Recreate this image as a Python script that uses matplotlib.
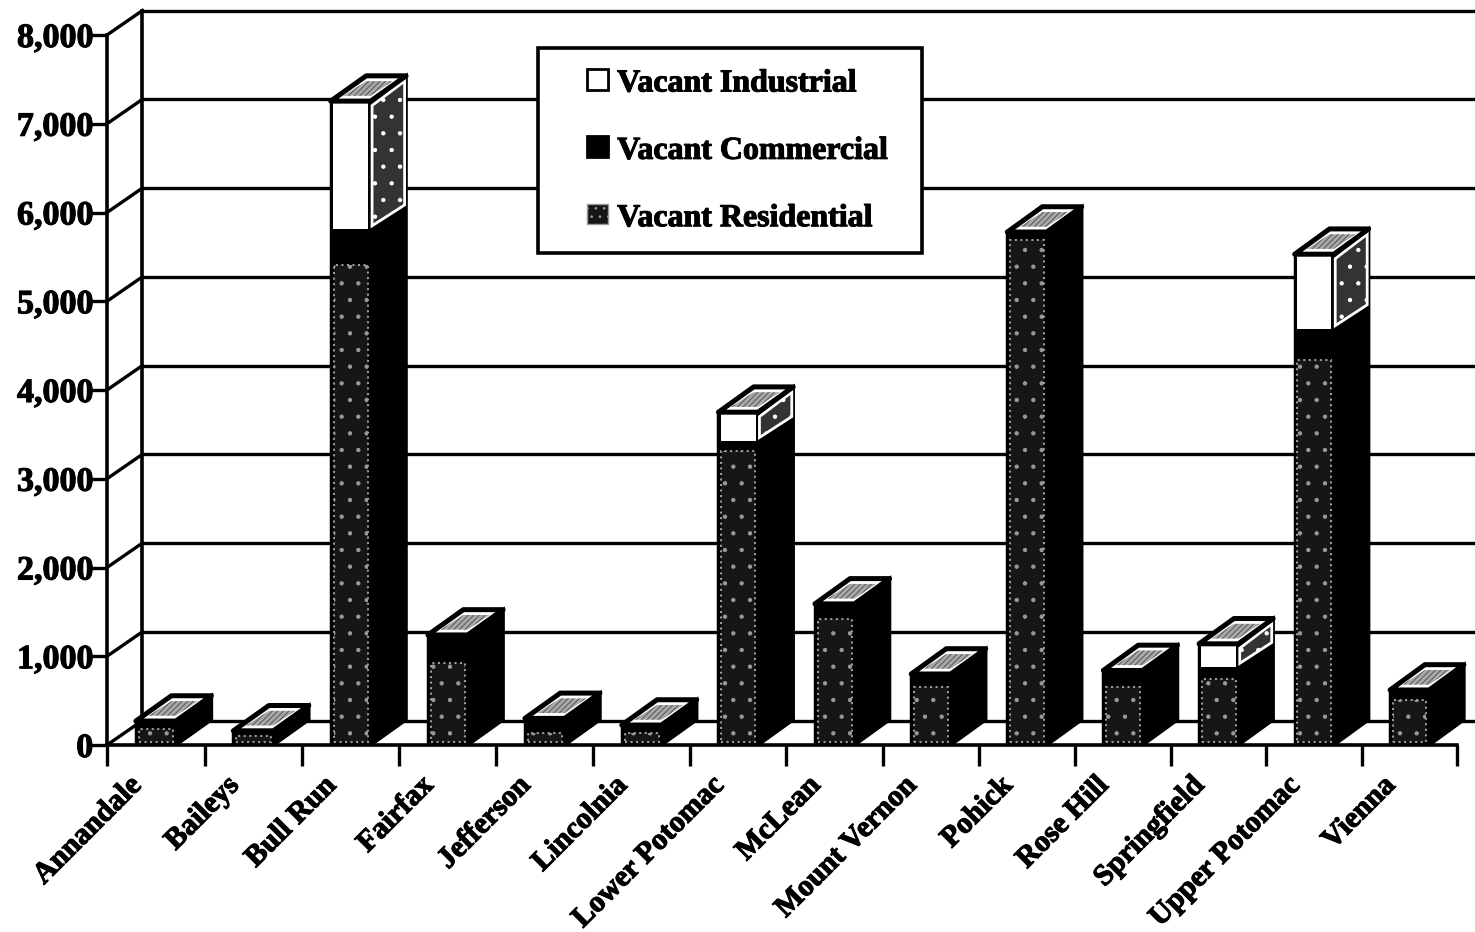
# vacant land by planning district, fake 3d stacked bars
import matplotlib
matplotlib.use("Agg")
import matplotlib.pyplot as plt
import matplotlib.patheffects as pe
from matplotlib.patches import Patch, Rectangle
from matplotlib.legend_handler import HandlerPatch
from matplotlib.transforms import ScaledTranslation

plt.rcParams['font.family'] = ['Liberation Serif', 'DejaVu Serif']
plt.rcParams['font.weight'] = 'bold'
plt.rcParams['hatch.linewidth'] = 0.7

districts = ["Annandale", "Baileys", "Bull Run", "Fairfax", "Jefferson", "Lincolnia",
             "Lower Potomac", "McLean", "Mount Vernon", "Pohick", "Rose Hill",
             "Springfield", "Upper Potomac", "Vienna"]
residential = [180, 100, 5410, 920, 130, 140, 3310, 1420, 650, 5690, 650, 745, 4340, 510]
commercial = [90, 60, 400, 320, 170, 85, 115, 170, 150, 90, 190, 135, 345, 110]
industrial = [0, 0, 1445, 0, 0, 0, 325, 0, 0, 0, 0, 260, 845, 0]
y_ticks = [0, 1000, 2000, 3000, 4000, 5000, 6000, 7000, 8000]

W, H = 1475, 932
heavy = [pe.withStroke(linewidth=0.8, foreground='black')]


# the scan is stretched a little in the middle of the page
def bow(x):
    return x + 0.045 * 4 * x * (14 - x) / 196


def unbow(x):
    return x - 0.045 * 4 * x * (14 - x) / 196


def square_handle(legend, orig_handle, xdescent, ydescent, width, height, fontsize):
    # small square at the right end of the handle slot
    return Rectangle((width - 15, (height - 15) / 2), 15, 15)


fig = plt.figure(figsize=(W / 100, H / 100), dpi=100)
ax = fig.add_axes([107 / W, (H - 745) / H, (W - 107) / W, 710 / H])
ax.set_xscale('function', functions=(bow, unbow))
ax.set_xlim(0, (W - 107) / 96.43)
ax.set_ylim(0, 8000)

# depth of the wall and of the bars, in data units
wall_dx, wall_dy = 0.363, 276
bar_dx, bar_dy = 0.365, 285
bar_w = 0.41

# back wall
for v in y_ticks:
    ax.plot([wall_dx, 15], [v + wall_dy] * 2, color='black', lw=2.4, clip_on=False, zorder=1)
    ax.plot([0, wall_dx], [v, v + wall_dy], color='black', lw=2.4, clip_on=False, zorder=1)
ax.plot([wall_dx, wall_dx], [wall_dy, 8000 + wall_dy], color='black', lw=2.6, clip_on=False, zorder=1)

for i, name in enumerate(districts):
    left = i + 0.5 - bar_w / 2
    right = left + bar_w
    total = residential[i] + commercial[i] + industrial[i]
    z = 3 + i

    # solid body
    ax.bar(i + 0.5, total, bar_w, color='black', edgecolor='black', lw=2.5, zorder=z)
    ax.fill([right, right + bar_dx, right + bar_dx, right],
            [0, bar_dy, total + bar_dy, total], color='black', ec='black', lw=2.5, zorder=z)

    # residential front with dotted inner edge
    ax.bar(i + 0.5, residential[i] - 30, bar_w * 0.86, bottom=30, facecolor='#161616',
           edgecolor='#9a9a9a', linestyle=':', lw=1.5, hatch='.', zorder=z + 0.2)

    # industrial, white front and framed side
    if industrial[i] > 0:
        base = residential[i] + commercial[i]
        ax.bar(i + 0.5, industrial[i] - 20, bar_w * 0.88, bottom=base, color='white', zorder=z + 0.2)
        ax.fill([right + 0.015, right + bar_dx - 0.015, right + bar_dx - 0.015, right + 0.015],
                [base + 40, base + bar_dy - 10, total + bar_dy - 60, total - 50],
                facecolor='#333333', edgecolor='white', lw=2, hatch='.', zorder=z + 0.2)

    # top
    ax.fill([left, right, right + bar_dx, left + bar_dx],
            [total, total, total + bar_dy, total + bar_dy],
            facecolor='white', edgecolor='black', lw=3.6, joinstyle='round', zorder=z + 0.3)
    ax.fill([left + 0.13, right + 0.0, right + bar_dx - 0.14, left + bar_dx + 0.0],
            [total + 60, total + 60, total + bar_dy - 60, total + bar_dy - 60],
            facecolor='#a8a8a8', edgecolor='#555555', lw=0, hatch='//////', zorder=z + 0.4)

ax.spines[['top', 'right']].set_visible(False)
ax.spines['left'].set_linewidth(2.6)
ax.spines['bottom'].set_linewidth(2.6)
ax.spines['bottom'].set_bounds(0, 14)

ax.set_yticks(y_ticks)
ax.set_yticklabels([f"{v:,}" for v in y_ticks], fontsize=24.5, path_effects=heavy)
ax.tick_params(axis='y', length=12, width=2.4, pad=-2)

ax.set_xticks(range(15), minor=True)
ax.xaxis.set_minor_formatter(plt.NullFormatter())
ax.tick_params(axis='x', which='minor', length=15, width=2.4)
ax.set_xticks([i + 0.5 for i in range(len(districts))])
ax.set_xticklabels(districts, fontsize=21.5, rotation=45, ha='right', rotation_mode='anchor', va='top',
                   path_effects=heavy)
ax.tick_params(axis='x', which='major', length=0, pad=19)
shift = ScaledTranslation(-28 / 100, 0, fig.dpi_scale_trans)
for lbl in ax.get_xticklabels():
    lbl.set_transform(lbl.get_transform() + shift)

handles = [Patch(facecolor='white', edgecolor='black', lw=2),
           Patch(facecolor='black', edgecolor='black', lw=2),
           Patch(facecolor='#161616', edgecolor='#999999', lw=1, hatch='..')]
leg = ax.legend(handles, ["Vacant Industrial", "Vacant Commercial", "Vacant Residential"],
                loc='upper left',
                bbox_to_anchor=((538 - 107) / (W - 107), 1 - (253 - 35) / 710,
                                (922 - 538) / (W - 107), 205 / 710),
                mode='expand', fontsize=23, frameon=True, fancybox=False, framealpha=1,
                edgecolor='black', handlelength=1.55, handleheight=0.8, handletextpad=0.3,
                labelspacing=1.16, borderpad=0.63, borderaxespad=0,
                handler_map={Patch: HandlerPatch(patch_func=square_handle)})
leg.get_frame().set_linewidth(2.6)
leg.set_zorder(30)
for t in leg.get_texts():
    t.set_path_effects(heavy)

fig.savefig("out.png", dpi=100)
